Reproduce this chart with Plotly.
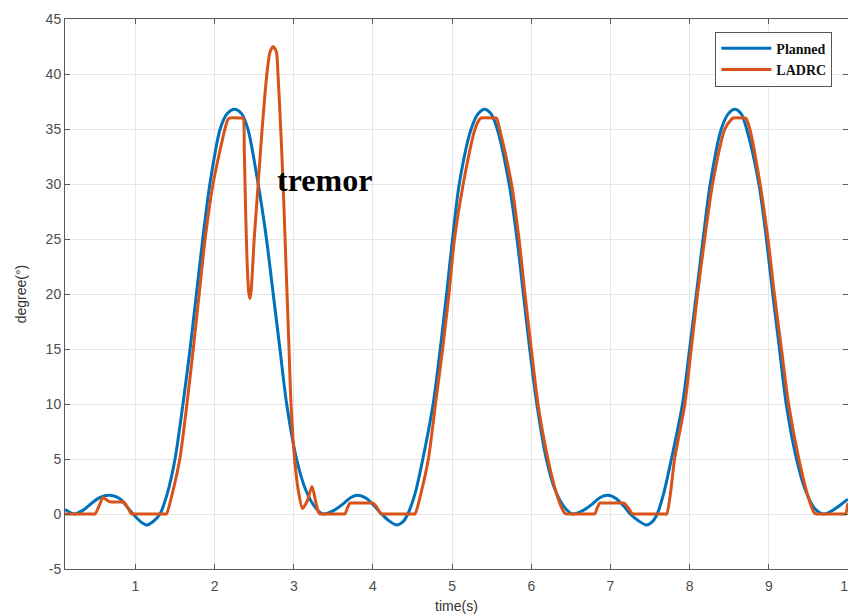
import plotly.graph_objects as go

# Planned trajectory (time s, degree)
planned_t = [0.11, 0.23, 0.35, 0.45, 0.55, 0.68, 0.80, 0.90, 0.97, 1.05, 1.14, 1.22, 1.31, 1.40,
             1.50, 1.60, 1.69, 1.77, 1.85, 1.94, 2.07, 2.16, 2.25, 2.34, 2.42, 2.55, 2.655, 2.74,
             2.825, 2.91, 3.035, 3.15, 3.27, 3.37, 3.50, 3.62, 3.72, 3.81, 3.92, 4.02, 4.11, 4.20,
             4.30, 4.38, 4.44, 4.53, 4.63, 4.76, 4.85, 4.93, 5.005, 5.09, 5.24, 5.33, 5.41, 5.49,
             5.57, 5.72, 5.82, 5.90, 5.98, 6.07, 6.19, 6.30, 6.42, 6.52, 6.65, 6.77, 6.87, 6.97,
             7.07, 7.17, 7.25, 7.35, 7.455, 7.53, 7.59, 7.67, 7.77, 7.91, 8.00, 8.085, 8.17, 8.26,
             8.40, 8.49, 8.57, 8.65, 8.72, 8.875, 8.97, 9.05, 9.135, 9.22, 9.35, 9.46, 9.58, 9.69,
             9.80, 9.90, 10.0]
planned_v = [0.4, 0.0, 0.4, 1.0, 1.5, 1.7, 1.4, 0.6, 0.0, -0.6, -1.0, -0.7, 0.0, 1.8,
             5.0, 10.0, 15.0, 20.0, 25.0, 30.0, 35.0, 36.4, 36.8, 36.4, 35.0, 30.0, 25.0, 20.0,
             15.0, 10.0, 5.0, 2.2, 0.6, 0.0, 0.3, 0.9, 1.5, 1.7, 1.4, 0.7, 0.0, -0.6,
             -1.0, -0.7, 0.0, 1.8, 5.0, 10.0, 15.0, 20.0, 25.0, 30.0, 35.0, 36.4, 36.8, 36.4,
             35.0, 30.0, 25.0, 20.0, 15.0, 10.0, 5.0, 2.2, 0.6, 0.0, 0.3, 0.9, 1.5, 1.7,
             1.4, 0.7, 0.0, -0.6, -1.0, -0.7, 0.0, 1.8, 5.0, 10.0, 15.0, 20.0, 25.0, 30.0,
             35.0, 36.4, 36.8, 36.4, 35.0, 30.0, 25.0, 20.0, 15.0, 10.0, 5.0, 2.2, 0.5, 0.0,
             0.3, 0.8, 1.35]

# LADRC response (time s, degree)
ladrc_t = [0.11, 0.46, 0.49, 0.55, 0.59, 0.64, 0.68, 0.83, 0.85, 0.91, 0.94, 0.96, 0.99,
           1.36, 1.39, 1.47, 1.56, 1.65, 1.73, 1.805, 1.88, 1.98, 2.13, 2.17, 2.19, 2.34, 2.36,
           2.375, 2.39, 2.41, 2.43, 2.445, 2.46, 2.50, 2.55, 2.60, 2.66, 2.70, 2.74, 2.78, 2.80,
           2.835, 2.865, 2.89, 2.915, 2.94, 2.965, 3.01, 3.06, 3.11, 3.17, 3.23, 3.28, 3.31, 3.33,
           3.36, 3.62, 3.645, 3.68, 3.71, 3.73, 3.98, 4.00, 4.05, 4.09, 4.11, 4.14, 4.50, 4.53,
           4.61, 4.70, 4.79, 4.88, 4.96, 5.03, 5.14, 5.29, 5.35, 5.37, 5.54, 5.56, 5.60, 5.75,
           5.845, 5.92, 6.00, 6.085, 6.21, 6.33, 6.42, 6.445, 6.48, 6.77, 6.80, 6.835, 6.865,
           6.89, 7.15, 7.17, 7.23, 7.265, 7.285, 7.32, 7.68, 7.71, 7.76, 7.81, 7.94, 8.02, 8.10,
           8.19, 8.29, 8.445, 8.53, 8.55, 8.69, 8.71, 8.76, 8.89, 8.99, 9.07, 9.16, 9.25, 9.38,
           9.50, 9.575, 9.60, 9.63, 9.95, 9.97, 10.0]
ladrc_v = [0.0, 0.0, 0.0, 0.9, 1.5, 1.25, 1.1, 1.1, 1.1, 0.5, 0.1, 0.0, 0.0,
           0.0, 0.0, 2.0, 5.0, 10.0, 15.0, 20.0, 25.0, 30.0, 35.0, 35.9, 36.0, 36.0, 36.0,
           33.0, 28.0, 23.0, 20.2, 19.6, 20.2, 25.0, 30.0, 35.0, 40.0, 42.0, 42.5, 42.0, 40.0,
           35.0, 30.0, 25.0, 20.0, 15.0, 10.0, 5.0, 2.0, 0.5, 1.2, 2.5, 1.0, 0.2, 0.0,
           0.0, 0.0, 0.0, 0.6, 1.0, 1.0, 1.0, 1.0, 0.6, 0.1, 0.0, 0.0, 0.0, 0.0,
           2.0, 5.0, 10.0, 15.0, 20.0, 25.0, 30.0, 35.0, 35.9, 36.0, 36.0, 36.0, 35.0, 30.0,
           25.0, 20.0, 15.0, 10.0, 5.0, 1.6, 0.1, 0.0, 0.0, 0.0, 0.0, 0.6, 1.0,
           1.0, 1.0, 1.0, 0.5, 0.1, 0.0, 0.0, 0.0, 0.0, 2.0, 5.0, 10.0, 15.0, 20.0,
           25.0, 30.0, 35.0, 35.9, 36.0, 36.0, 36.0, 35.0, 30.0, 25.0, 20.0, 15.0, 10.0, 5.0,
           1.5, 0.1, 0.0, 0.0, 0.0, 0.0, 1.0]

x_ticks = [1, 2, 3, 4, 5, 6, 7, 8, 9, 10]
y_ticks = [-5, 0, 5, 10, 15, 20, 25, 30, 35, 40, 45]
annotation_text = "tremor"
annotation_pos = (3.39, 30.4)

BLUE = "#0072BD"
ORANGE = "#D95319"

fig = go.Figure()
fig.add_trace(go.Scatter(x=planned_t, y=planned_v, mode="lines", name="Planned",
                         line=dict(color=BLUE, width=3, shape="spline", smoothing=0.8)))
fig.add_trace(go.Scatter(x=ladrc_t, y=ladrc_v, mode="lines", name="LADRC",
                         line=dict(color=ORANGE, width=3, shape="spline", smoothing=0.7)))

fig.add_annotation(x=annotation_pos[0], y=annotation_pos[1], text=annotation_text,
                   showarrow=False, xanchor="center", yanchor="middle",
                   font=dict(family="Liberation Serif", size=32, color="#000000", weight="bold"))

axis_common = dict(
    showline=True, linecolor="#595959", linewidth=1, mirror="ticks",
    ticks="inside", ticklen=5, tickcolor="#595959",
    showgrid=True, gridcolor="#e6e6e6", gridwidth=1,
    zeroline=False, ticklabeloverflow="allow",
    tickfont=dict(family="Liberation Sans", size=14, color="#4d4d4d"),
)

fig.update_xaxes(range=[0.11, 10.0005], tickvals=x_ticks, ticktext=[str(v) for v in x_ticks],
                 ticklabelstandoff=4,
                 title=dict(text="time(s)", standoff=8,
                            font=dict(family="Liberation Sans", size=14, color="#333333")),
                 **axis_common)
fig.update_yaxes(range=[-5, 45], tickvals=y_ticks, ticktext=[str(v) for v in y_ticks],
                 title=dict(text="degree(°)", standoff=15,
                            font=dict(family="Liberation Sans", size=14, color="#333333")),
                 **axis_common)

# page body adds an 8px offset; margins compensate so the plot sits at x 65-848, y 19-569
fig.update_layout(
    width=848, height=608,
    margin=dict(l=57, r=8, t=11, b=47, autoexpand=False),
    paper_bgcolor="white", plot_bgcolor="white",
    showlegend=True,
    legend=dict(x=0.98, y=0.977, xanchor="right", yanchor="top",
                bgcolor="white", bordercolor="#555555", borderwidth=1,
                itemwidth=50, tracegroupgap=0,
                font=dict(family="Liberation Serif", size=14, color="#111111", weight="bold")),
)

fig.write_html("out.html")
